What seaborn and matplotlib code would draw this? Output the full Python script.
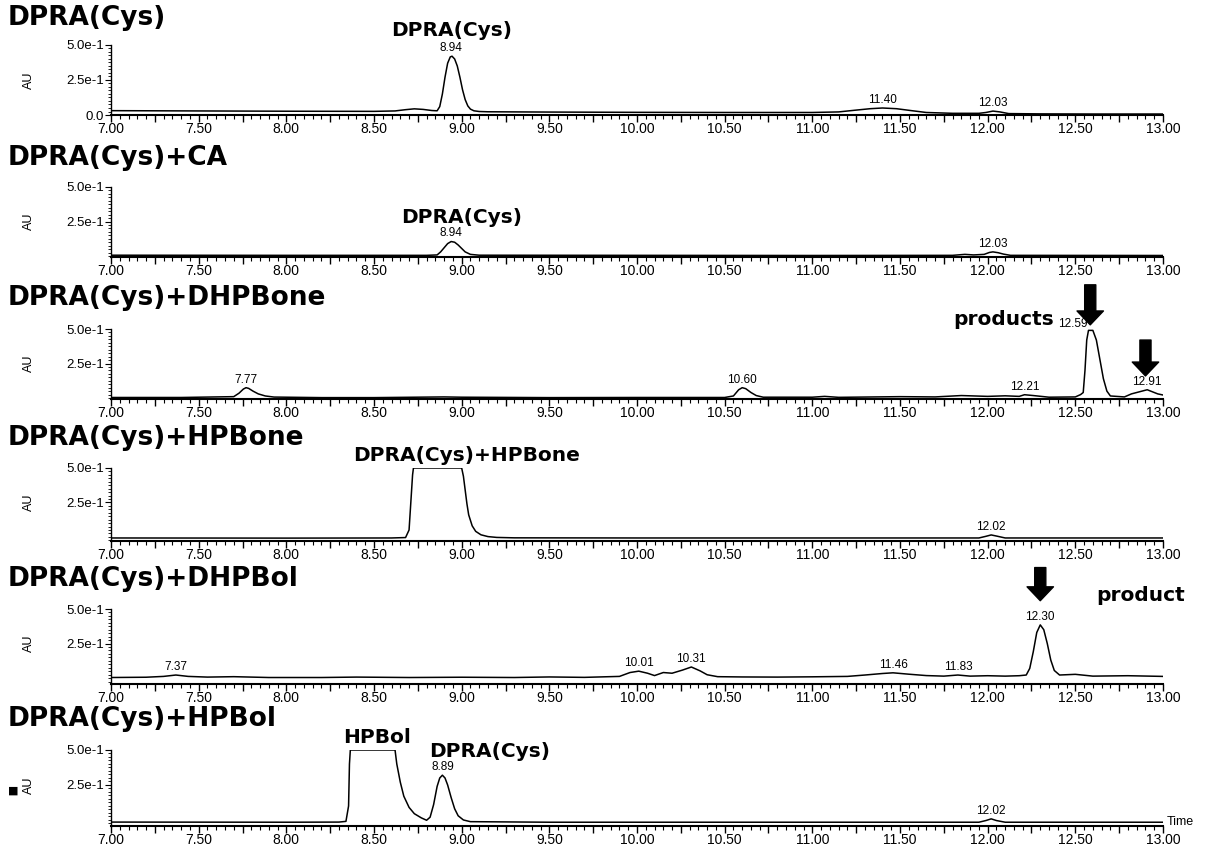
import matplotlib
matplotlib.use("Agg")
import matplotlib.pyplot as plt
from matplotlib.ticker import MultipleLocator, FixedLocator, FixedFormatter
import seaborn as sns

# --- data (time in min, absorbance in AU) ---
cys_t = [7.00, 7.50, 8.00, 8.50, 8.62, 8.68, 8.73, 8.78, 8.83, 8.86, 8.875, 8.89, 8.905, 8.92,
         8.935, 8.945, 8.96, 8.975, 8.99, 9.005, 9.02, 9.035, 9.05, 9.07, 9.10, 9.15, 9.50,
         10.00, 10.50, 11.00, 11.15, 11.25, 11.33, 11.40, 11.48, 11.56, 11.65, 11.80, 11.95,
         11.99, 12.03, 12.07, 12.12, 12.30, 12.60, 13.00]
cys_au = [0.031, 0.029, 0.027, 0.026, 0.029, 0.038, 0.044, 0.040, 0.032, 0.030, 0.060, 0.15,
          0.27, 0.37, 0.415, 0.42, 0.40, 0.35, 0.27, 0.18, 0.11, 0.065, 0.042, 0.030, 0.025,
          0.023, 0.021, 0.019, 0.018, 0.018, 0.022, 0.035, 0.045, 0.050, 0.045, 0.032, 0.018,
          0.012, 0.012, 0.018, 0.028, 0.022, 0.010, 0.008, 0.007, 0.007]

ca_t = [7.00, 8.00, 8.80, 8.86, 8.88, 8.90, 8.92, 8.94, 8.96, 8.98, 9.00, 9.02, 9.05, 9.10,
        10.00, 11.00, 11.80, 11.87, 11.92, 11.98, 12.01, 12.03, 12.06, 12.09, 12.13, 13.00]
ca_au = [0.006, 0.005, 0.005, 0.008, 0.03, 0.06, 0.09, 0.105, 0.10, 0.08, 0.055, 0.030, 0.012,
         0.006, 0.005, 0.004, 0.005, 0.012, 0.008, 0.012, 0.026, 0.030, 0.024, 0.014, 0.005, 0.004]

dhpbone_t = [7.00, 7.40, 7.60, 7.70, 7.73, 7.755, 7.77, 7.785, 7.81, 7.84, 7.88, 7.93, 8.20,
             8.50, 8.90, 9.00, 9.50, 10.00, 10.50, 10.55, 10.58, 10.60, 10.62, 10.65, 10.68,
             10.72, 11.00, 11.07, 11.15, 11.50, 11.70, 11.85, 12.00, 12.10, 12.18, 12.21, 12.26,
             12.35, 12.50, 12.53, 12.545, 12.555, 12.565, 12.575, 12.60, 12.62, 12.64, 12.66,
             12.68, 12.70, 12.78, 12.82, 12.85, 12.88, 12.91, 12.94, 12.97, 13.00]
dhpbone_au = [0.004, 0.004, 0.008, 0.010, 0.035, 0.065, 0.075, 0.070, 0.050, 0.030, 0.015,
              0.007, 0.003, 0.003, 0.008, 0.006, 0.003, 0.004, 0.004, 0.015, 0.060, 0.075, 0.068,
              0.040, 0.018, 0.006, 0.006, 0.012, 0.005, 0.010, 0.008, 0.018, 0.012, 0.016, 0.012,
              0.024, 0.018, 0.006, 0.008, 0.025, 0.040, 0.20, 0.42, 0.49, 0.49, 0.42, 0.28, 0.14,
              0.05, 0.015, 0.008, 0.030, 0.040, 0.050, 0.060, 0.045, 0.030, 0.022]

hpbone_t = [7.00, 8.00, 8.60, 8.68, 8.70, 8.71, 8.72, 8.725, 9.00, 9.01, 9.02, 9.03, 9.04, 9.06,
            9.08, 9.11, 9.15, 9.20, 9.30, 10.00, 11.95, 11.99, 12.02, 12.05, 12.10, 13.00]
hpbone_au = [-0.008, -0.009, -0.008, -0.005, 0.05, 0.25, 0.45, 0.50, 0.50, 0.44, 0.34, 0.24,
             0.16, 0.08, 0.04, 0.015, 0.002, -0.004, -0.007, -0.008, -0.008, 0.004, 0.014,
             0.006, -0.008, -0.008]

dhpbol_t = [7.00, 7.20, 7.30, 7.37, 7.44, 7.55, 7.70, 7.90, 8.20, 8.40, 8.70, 9.00, 9.30, 9.50,
            9.70, 9.90, 9.96, 10.01, 10.06, 10.10, 10.15, 10.20, 10.26, 10.31, 10.36, 10.40,
            10.46, 10.60, 10.80, 11.00, 11.20, 11.30, 11.40, 11.46, 11.55, 11.65, 11.75, 11.83,
            11.90, 12.00, 12.10, 12.18, 12.22, 12.24, 12.26, 12.28, 12.30, 12.32, 12.34, 12.36,
            12.38, 12.41, 12.50, 12.60, 12.80, 13.00]
dhpbol_au = [0.004, 0.006, 0.012, 0.022, 0.012, 0.007, 0.010, 0.004, 0.004, 0.007, 0.004, 0.006,
             0.004, 0.008, 0.005, 0.012, 0.040, 0.050, 0.035, 0.018, 0.040, 0.035, 0.058, 0.080,
             0.052, 0.024, 0.010, 0.008, 0.007, 0.009, 0.012, 0.022, 0.033, 0.038, 0.028, 0.018,
             0.014, 0.022, 0.014, 0.017, 0.014, 0.017, 0.022, 0.070, 0.19, 0.33, 0.385, 0.35,
             0.25, 0.13, 0.055, 0.022, 0.027, 0.014, 0.017, 0.012]

hpbol_t = [7.00, 8.00, 8.30, 8.34, 8.355, 8.36, 8.365, 8.62, 8.63, 8.65, 8.67, 8.70, 8.73, 8.77,
           8.80, 8.82, 8.84, 8.86, 8.875, 8.89, 8.905, 8.92, 8.94, 8.96, 8.98, 9.01, 9.05, 9.50,
           11.95, 11.99, 12.02, 12.05, 12.10, 13.00]
hpbol_au = [-0.015, -0.016, -0.015, -0.010, 0.10, 0.40, 0.50, 0.50, 0.40, 0.27, 0.17, 0.09,
            0.045, 0.015, -0.002, 0.02, 0.11, 0.24, 0.30, 0.32, 0.30, 0.25, 0.16, 0.08, 0.03,
            0.0, -0.012, -0.016, -0.016, -0.004, 0.008, -0.004, -0.016, -0.016]

titles = ["DPRA(Cys)", "DPRA(Cys)+CA", "DPRA(Cys)+DHPBone", "DPRA(Cys)+HPBone",
          "DPRA(Cys)+DHPBol", "DPRA(Cys)+HPBol"]
traces = [(cys_t, cys_au), (ca_t, ca_au), (dhpbone_t, dhpbone_au), (hpbone_t, hpbone_au),
          (dhpbol_t, dhpbol_au), (hpbol_t, hpbol_au)]
y_bottom = [0.0, -0.007, -0.007, -0.03, -0.043, -0.043]

# retention-time labels: (time, height, text, alignment)
peak_labels = [
    [(8.94, 0.42, "8.94", "center"), (11.40, 0.05, "11.40", "center"), (12.03, 0.028, "12.03", "center")],
    [(8.94, 0.105, "8.94", "center"), (12.03, 0.03, "12.03", "center")],
    [(7.77, 0.075, "7.77", "center"), (10.60, 0.075, "10.60", "center"), (12.21, 0.024, "12.21", "center"),
     (12.585, 0.475, "12.59", "right"), (12.91, 0.06, "12.91", "center")],
    [(12.02, 0.014, "12.02", "center")],
    [(7.37, 0.022, "7.37", "center"), (10.01, 0.05, "10.01", "center"), (10.31, 0.08, "10.31", "center"),
     (11.46, 0.038, "11.46", "center"), (11.83, 0.022, "11.83", "center"), (12.30, 0.385, "12.30", "center")],
    [(8.89, 0.32, "8.89", "center"), (12.02, 0.008, "12.02", "center")],
]

# compound annotations: (panel, time, height, text)
compound_labels = [
    (0, 8.94, 0.60, "DPRA(Cys)"),
    (1, 9.00, 0.28, "DPRA(Cys)"),
    (2, 12.09, 0.57, "products"),
    (3, 9.03, 0.59, "DPRA(Cys)+HPBone"),
    (4, 12.87, 0.60, "product"),
    (5, 8.52, 0.59, "HPBol"),
    (5, 9.16, 0.49, "DPRA(Cys)"),
]
# arrows: (panel, time, start height, end height)
arrows = [(2, 12.585, 0.82, 0.53), (2, 12.90, 0.42, 0.16), (4, 12.30, 0.80, 0.56)]

sns.set_style("ticks")
plt.rcParams['font.family'] = ['Liberation Sans', 'DejaVu Sans']
for key in ["text.color", "axes.labelcolor", "xtick.color", "ytick.color", "axes.edgecolor"]:
    plt.rcParams[key] = "black"

W, H = 1210, 849
fig = plt.figure(figsize=(W / 100, H / 100), dpi=100)

top_px = [45, 187, 329, 468, 609, 750]      # pixel row of the 5.0e-1 tick
axis_px = [115, 257, 399, 541, 684, 826]    # pixel row of the time axis
title_px = [18, 158, 298, 438, 579, 719]
left_px, right_px = 111, 1163

axes = []
for i, (t, au) in enumerate(traces):
    ax = fig.add_axes([left_px / W, 1 - axis_px[i] / H, (right_px - left_px) / W,
                       (axis_px[i] - top_px[i]) / H])
    axes.append(ax)
    sns.lineplot(x=t, y=au, ax=ax, color="black", linewidth=1.1, sort=False)
    ax.set_xlim(7.0, 13.0)
    ax.set_ylim(y_bottom[i], 0.5)
    for s in ["top", "right"]:
        ax.spines[s].set_visible(False)
    ax.spines["left"].set_linewidth(1.0)
    ax.spines["bottom"].set_linewidth(1.5)
    ax.xaxis.set_major_locator(MultipleLocator(0.25))
    ax.xaxis.set_minor_locator(MultipleLocator(0.05))
    ax.xaxis.set_major_formatter(plt.FuncFormatter(
        lambda v, p: f"{v:.2f}" if abs(v * 2 - round(v * 2)) < 1e-6 else ""))
    yt = [0.0, 0.25, 0.5] if i == 0 else [0.25, 0.5]
    yl = ["0.0", "2.5e-1", "5.0e-1"] if i == 0 else ["2.5e-1", "5.0e-1"]
    ax.yaxis.set_major_locator(FixedLocator(yt))
    ax.yaxis.set_major_formatter(FixedFormatter(yl))
    ax.yaxis.set_minor_locator(MultipleLocator(0.025))
    ax.tick_params(axis="x", which="major", length=5, width=1, pad=0, labelsize=10)
    ax.tick_params(axis="x", which="minor", length=3, width=0.8)
    ax.tick_params(axis="y", which="major", length=4, width=0.8, pad=1, labelsize=9.5)
    ax.tick_params(axis="y", which="minor", length=2.5, width=0.6)
    ax.set_xlabel("")
    ax.set_ylabel("AU", fontsize=9)
    ax.yaxis.set_label_coords(-0.072, (0.25 - y_bottom[i]) / (0.5 - y_bottom[i]))

    for (pt, ph, txt, ha) in peak_labels[i]:
        dx = -2 if ha == "right" else 0
        ax.annotate(txt, xy=(pt, ph), xytext=(dx, 1.5), textcoords="offset points",
                    ha=ha, va="bottom", fontsize=8.5, annotation_clip=False)

    fig.text(8 / W, 1 - title_px[i] / H, titles[i], fontsize=19, fontweight="bold",
             family="DejaVu Sans", ha="left", va="center")

for (pi, pt, ph, txt) in compound_labels:
    axes[pi].text(pt, ph, txt, fontsize=14.5, fontweight="bold", family="DejaVu Sans",
                  ha="center", va="center", clip_on=False)

for (pi, pt, y0, y1) in arrows:
    axes[pi].annotate("", xy=(pt, y1), xytext=(pt, y0), annotation_clip=False,
                      arrowprops=dict(facecolor="black", edgecolor="black", width=8,
                                      headwidth=19, headlength=10, shrink=0))

fig.text(1167 / W, 1 - 822 / H, "Time", fontsize=9, ha="left", va="center")
fig.text(13 / W, 1 - 791 / H, "\u25a0", fontsize=8, family="DejaVu Sans", ha="center", va="center")

fig.savefig("out.png", dpi=100, facecolor="white")
